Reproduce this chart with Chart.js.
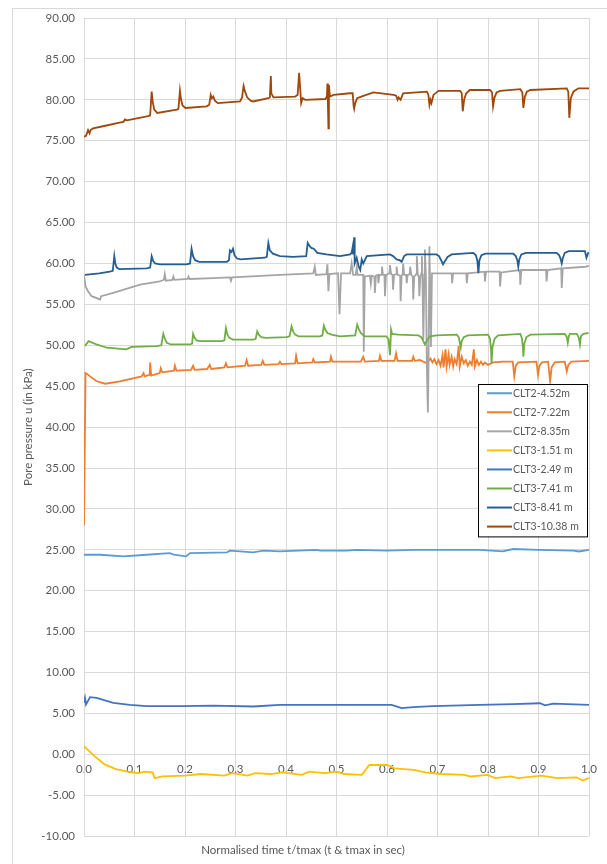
<!DOCTYPE html>
<html>
<head>
<meta charset="utf-8">
<script src="https://cdn.jsdelivr.net/npm/chart.js"></script>
<style>
  html, body { margin: 0; padding: 0; background: #fff; overflow: hidden; }
  #wrap { position: relative; width: 607px; height: 864px; }
  #frame { position: absolute; left: 12px; top: 8px; width: 700px; height: 1000px; border: 1px solid #d9d9d9; box-sizing: border-box; }
  canvas { position: absolute; left: 0; top: 0; }
</style>
</head>
<body>
<div id="wrap">
  <div id="frame"></div>
  <canvas id="c" width="607" height="864"></canvas>
</div>
<script>
// ---- DATA (t/tmax, pore pressure kPa) ----
const seriesNames = ["CLT2-4.52m", "CLT2-7.22m", "CLT2-8.35m", "CLT3-1.51 m", "CLT3-2.49 m", "CLT3-7.41 m", "CLT3-8.41 m", "CLT3-10.38 m"];

const CLT2_452 = [[0,24.4],[0.032,24.4],[0.078,24.2],[0.124,24.4],[0.170,24.6],[0.178,24.4],[0.202,24.2],[0.210,24.6],[0.283,24.7],[0.289,24.9],[0.335,24.7],[0.355,24.9],[0.388,24.8],[0.461,25.0],[0.468,24.9],[0.520,24.9],[0.540,25.0],[0.600,24.9],[0.652,25.0],[0.718,25.0],[0.784,25.0],[0.829,24.8],[0.850,25.1],[0.900,25.0],[0.969,24.9],[0.980,24.8],[1.0,25.0]];

const CLT2_722 = [[0.0,28.0],[0.003,46.6],[0.006,46.5],[0.012,46.2],[0.025,45.6],[0.042,45.3],[0.071,45.6],[0.114,46.2],[0.118,46.6],[0.120,46.2],[0.130,46.4],[0.131,47.9],[0.133,46.3],[0.150,46.6],[0.152,47.2],[0.155,46.7],[0.178,46.9],[0.180,47.5],[0.183,46.9],[0.212,47.0],[0.216,47.5],[0.219,47.0],[0.244,47.1],[0.249,47.6],[0.252,47.1],[0.278,47.3],[0.281,47.8],[0.284,47.3],[0.319,47.5],[0.322,48.2],[0.325,47.5],[0.351,47.6],[0.354,48.1],[0.357,47.6],[0.385,47.7],[0.388,48.0],[0.391,47.7],[0.418,47.8],[0.420,48.7],[0.423,47.8],[0.452,47.9],[0.454,48.3],[0.457,47.9],[0.487,48.0],[0.489,48.6],[0.492,48.0],[0.548,48.0],[0.553,48.6],[0.556,48.0],[0.584,48.1],[0.586,48.7],[0.589,48.1],[0.615,48.1],[0.618,49.0],[0.621,48.1],[0.650,48.1],[0.652,48.6],[0.655,48.1],[0.665,48.2],[0.679,47.8],[0.686,48.4],[0.690,47.9],[0.694,48.3],[0.698,47.7],[0.702,48.2],[0.706,47.5],[0.710,48.8],[0.712,47.3],[0.716,49.5],[0.718,47.4],[0.722,48.9],[0.724,47.6],[0.728,48.6],[0.731,47.4],[0.734,48.3],[0.738,47.7],[0.742,49.9],[0.744,47.4],[0.748,48.6],[0.752,47.8],[0.756,48.2],[0.760,47.5],[0.764,48.0],[0.768,47.6],[0.772,49.5],[0.774,47.4],[0.778,48.2],[0.782,47.6],[0.786,48.0],[0.790,47.6],[0.794,47.9],[0.800,47.6],[0.810,47.9],[0.830,48.0],[0.849,48.0],[0.852,46.2],[0.855,47.5],[0.860,47.9],[0.896,48.0],[0.899,46.4],[0.902,47.5],[0.907,47.9],[0.919,48.0],[0.923,45.6],[0.926,47.3],[0.932,47.9],[0.952,48.0],[0.956,46.8],[0.959,47.6],[0.965,48.0],[1.0,48.1]];

const CLT2_835 = [[0,58.6],[0.003,57.2],[0.008,56.6],[0.015,56.0],[0.032,55.6],[0.034,56.0],[0.058,56.4],[0.111,57.4],[0.150,57.8],[0.158,58.0],[0.160,58.7],[0.162,57.9],[0.175,58.0],[0.177,58.4],[0.179,58.0],[0.205,58.1],[0.207,58.4],[0.209,58.1],[0.256,58.2],[0.289,58.3],[0.291,57.9],[0.293,58.3],[0.322,58.4],[0.388,58.6],[0.454,58.8],[0.457,59.6],[0.459,58.6],[0.480,58.7],[0.482,59.9],[0.484,56.6],[0.486,58.7],[0.503,58.8],[0.506,53.8],[0.509,58.8],[0.527,58.8],[0.530,60.0],[0.533,58.6],[0.538,58.6],[0.540,59.5],[0.542,58.6],[0.553,58.6],[0.554,49.2],[0.556,58.4],[0.566,58.5],[0.568,57.5],[0.570,58.5],[0.575,58.4],[0.576,56.4],[0.578,58.5],[0.582,58.6],[0.583,57.6],[0.585,58.6],[0.589,58.6],[0.590,59.6],[0.592,58.6],[0.595,58.6],[0.596,56.0],[0.598,58.6],[0.605,58.8],[0.606,59.8],[0.608,58.7],[0.611,58.6],[0.612,56.8],[0.614,58.6],[0.618,58.7],[0.619,59.6],[0.621,58.6],[0.626,58.5],[0.627,55.4],[0.629,58.5],[0.631,58.7],[0.632,60.0],[0.634,58.6],[0.638,58.6],[0.639,57.6],[0.641,58.6],[0.645,58.7],[0.646,59.6],[0.648,58.6],[0.651,58.4],[0.652,55.6],[0.654,58.4],[0.658,58.7],[0.659,60.9],[0.661,58.6],[0.663,58.4],[0.664,56.0],[0.666,58.4],[0.668,58.8],[0.669,60.9],[0.670,58.8],[0.672,50.7],[0.674,58.6],[0.675,61.7],[0.677,58.6],[0.679,47.0],[0.681,41.8],[0.682,46.2],[0.684,62.1],[0.686,55.0],[0.687,49.8],[0.689,58.8],[0.705,58.8],[0.728,58.8],[0.729,57.6],[0.731,58.8],[0.757,58.8],[0.758,57.6],[0.760,58.8],[0.793,59.0],[0.794,57.8],[0.796,59.0],[0.823,59.0],[0.824,57.2],[0.826,58.9],[0.863,59.2],[0.864,57.4],[0.866,59.2],[0.915,59.2],[0.916,57.8],[0.918,59.2],[0.945,59.4],[0.946,57.0],[0.948,59.4],[0.993,59.6],[1.0,59.7]];

const CLT3_151 = [[0,1.0],[0.017,0.0],[0.040,-1.2],[0.063,-1.8],[0.094,-2.2],[0.109,-2.3],[0.120,-2.1],[0.136,-2.2],[0.140,-2.9],[0.155,-2.7],[0.200,-2.6],[0.232,-2.4],[0.278,-2.6],[0.293,-2.3],[0.324,-2.6],[0.339,-2.3],[0.370,-2.4],[0.393,-2.2],[0.431,-2.5],[0.446,-2.1],[0.477,-2.3],[0.500,-2.1],[0.515,-2.4],[0.550,-2.5],[0.565,-1.3],[0.600,-1.3],[0.615,-1.7],[0.653,-1.9],[0.676,-2.2],[0.707,-2.4],[0.753,-2.5],[0.765,-2.7],[0.799,-2.5],[0.814,-2.9],[0.845,-2.7],[0.860,-2.9],[0.906,-2.6],[0.937,-2.9],[0.975,-2.8],[0.987,-3.2],[1.0,-2.9]];

const CLT3_249 = [[0,6.3],[0.002,6.9],[0.004,6.1],[0.012,7.0],[0.025,6.9],[0.058,6.3],[0.091,6.05],[0.124,5.9],[0.190,5.9],[0.256,5.95],[0.335,5.85],[0.388,6.05],[0.520,6.05],[0.609,6.05],[0.629,5.65],[0.652,5.77],[0.691,5.9],[0.784,6.05],[0.850,6.15],[0.903,6.25],[0.913,6.0],[0.929,6.2],[1.0,6.05]];

const CLT3_741 = [[0.002,49.9],[0.009,50.5],[0.025,50.1],[0.045,49.7],[0.084,49.5],[0.094,49.8],[0.144,49.9],[0.153,50.0],[0.157,51.4],[0.160,50.8],[0.164,50.3],[0.172,50.1],[0.210,50.1],[0.214,50.2],[0.216,51.4],[0.219,50.9],[0.223,50.6],[0.230,50.5],[0.273,50.5],[0.278,50.6],[0.281,52.1],[0.284,51.3],[0.288,50.9],[0.295,50.7],[0.335,50.7],[0.340,50.8],[0.343,51.7],[0.346,51.3],[0.351,51.0],[0.360,50.9],[0.401,51.0],[0.407,51.1],[0.411,52.3],[0.414,51.7],[0.418,51.3],[0.425,51.1],[0.467,51.1],[0.472,51.2],[0.475,52.4],[0.478,51.9],[0.482,51.5],[0.490,51.3],[0.507,51.1],[0.537,51.2],[0.539,51.9],[0.541,52.5],[0.544,52.0],[0.548,51.5],[0.556,51.1],[0.599,51.1],[0.603,50.7],[0.606,48.8],[0.608,51.9],[0.610,51.4],[0.622,51.3],[0.662,51.2],[0.668,51.0],[0.672,50.5],[0.675,50.1],[0.679,50.6],[0.685,51.1],[0.698,51.2],[0.738,51.3],[0.742,51.0],[0.744,50.4],[0.746,49.7],[0.748,50.5],[0.752,51.0],[0.760,51.2],[0.800,51.3],[0.804,50.8],[0.806,49.5],[0.807,47.8],[0.809,49.8],[0.813,50.8],[0.820,51.2],[0.864,51.4],[0.867,50.9],[0.869,49.8],[0.870,48.6],[0.872,50.2],[0.876,51.0],[0.884,51.3],[0.952,51.4],[0.956,51.0],[0.958,50.3],[0.960,51.1],[0.962,51.4],[0.976,51.4],[0.980,50.9],[0.982,50.1],[0.984,51.1],[0.989,51.4],[0.999,51.5]];

const CLT3_841 = [[0.002,58.6],[0.030,58.8],[0.051,59.0],[0.057,59.1],[0.060,60.9],[0.062,60.0],[0.065,59.5],[0.070,59.3],[0.124,59.4],[0.131,59.5],[0.134,60.9],[0.137,60.3],[0.141,60.0],[0.150,59.9],[0.203,59.9],[0.210,60.0],[0.213,61.8],[0.216,60.9],[0.220,60.4],[0.228,60.2],[0.283,60.2],[0.287,60.4],[0.289,61.6],[0.292,61.4],[0.295,61.8],[0.298,61.0],[0.303,60.6],[0.310,60.5],[0.358,60.7],[0.362,60.8],[0.365,62.5],[0.368,61.6],[0.374,61.2],[0.388,60.9],[0.414,60.8],[0.440,60.9],[0.443,62.5],[0.446,62.2],[0.450,61.9],[0.455,61.8],[0.462,61.3],[0.480,61.1],[0.507,60.9],[0.527,61.1],[0.530,61.3],[0.532,62.0],[0.533,61.1],[0.535,63.2],[0.536,60.0],[0.540,60.7],[0.544,59.6],[0.547,59.2],[0.550,60.5],[0.553,60.0],[0.560,60.9],[0.606,61.1],[0.612,60.9],[0.619,60.5],[0.625,60.4],[0.629,60.2],[0.634,60.9],[0.639,61.1],[0.698,61.1],[0.703,60.9],[0.708,60.3],[0.711,59.9],[0.714,60.2],[0.720,60.8],[0.728,61.1],[0.771,61.3],[0.776,61.0],[0.779,60.3],[0.781,58.8],[0.783,60.4],[0.787,61.0],[0.795,61.2],[0.850,61.2],[0.855,60.9],[0.858,60.4],[0.860,59.6],[0.862,60.5],[0.866,61.1],[0.875,61.3],[0.936,61.3],[0.941,61.0],[0.944,60.5],[0.946,60.0],[0.948,60.6],[0.952,61.3],[0.960,61.5],[0.992,61.5],[0.995,60.7],[0.999,61.4]];

const CLT3_1038 = [[0,75.5],[0.004,75.6],[0.008,76.3],[0.011,75.9],[0.013,76.3],[0.018,76.5],[0.040,76.8],[0.070,77.2],[0.078,77.3],[0.081,77.6],[0.085,77.5],[0.127,78.0],[0.131,78.1],[0.134,81.0],[0.136,79.8],[0.139,78.8],[0.145,78.4],[0.184,78.8],[0.187,78.9],[0.190,81.1],[0.192,80.1],[0.195,79.3],[0.201,79.0],[0.243,79.2],[0.248,79.4],[0.251,80.6],[0.253,80.2],[0.256,80.4],[0.259,79.9],[0.265,79.6],[0.309,79.8],[0.313,80.3],[0.316,81.7],[0.319,81.0],[0.323,80.3],[0.330,79.9],[0.335,79.8],[0.365,80.2],[0.368,80.3],[0.370,82.9],[0.371,80.8],[0.375,80.3],[0.418,80.4],[0.423,80.6],[0.426,83.3],[0.428,81.5],[0.430,79.6],[0.433,80.2],[0.438,80.0],[0.478,80.1],[0.481,80.4],[0.482,82.0],[0.483,79.5],[0.484,76.5],[0.485,81.8],[0.487,80.4],[0.494,80.6],[0.527,80.8],[0.532,80.8],[0.534,79.2],[0.535,78.9],[0.537,79.6],[0.541,80.2],[0.549,80.4],[0.573,80.9],[0.613,80.6],[0.618,80.5],[0.621,80.0],[0.623,80.3],[0.627,80.0],[0.632,80.8],[0.679,81.0],[0.682,80.6],[0.684,79.4],[0.686,80.0],[0.688,79.6],[0.692,80.6],[0.702,81.1],[0.745,81.1],[0.748,80.8],[0.750,78.6],[0.753,80.1],[0.757,80.8],[0.764,81.2],[0.804,81.2],[0.808,80.9],[0.810,79.2],[0.813,80.3],[0.817,80.9],[0.824,81.1],[0.864,81.3],[0.868,80.9],[0.870,79.0],[0.873,80.4],[0.877,81.0],[0.884,81.2],[0.956,81.4],[0.959,81.0],[0.961,77.8],[0.964,80.2],[0.969,81.0],[0.979,81.4],[1.0,81.4]];

const seriesData = [CLT2_452, CLT2_722, CLT2_835, CLT3_151, CLT3_249, CLT3_741, CLT3_841, CLT3_1038];
const seriesColors = ["#5B9BD5", "#ED7D31", "#A5A5A5", "#FFC000", "#4472C4", "#70AD47", "#255E91", "#9E480E"];

const xTitle = "Normalised time t/tmax (t & tmax in sec)";
const yTitle = "Pore pressure u (in kPa)";
const yMin = -10, yMax = 90, yStep = 5;
const xMin = 0, xMax = 1, xStep = 0.1;

const FONT = "Lato, 'Liberation Sans', sans-serif";
const TXT = "#595959";
const GRID = "#d9d9d9";

const datasets = seriesData.map((d, i) => ({
  label: seriesNames[i],
  data: d.map(p => ({ x: p[0], y: p[1] })),
  borderColor: seriesColors[i],
  backgroundColor: seriesColors[i],
  borderWidth: 1.8,
  pointRadius: 0,
  tension: 0,
  fill: false,
  order: seriesData.length - i
}));

const boxLegend = {
  id: 'boxLegend',
  afterDraw(chart) {
    const ctx = chart.ctx;
    const a = chart.chartArea;
    const w = 109, rowH = 19.05;
    const x0 = a.right - w - 2;
    const y0 = chart.scales.y.getPixelForValue(45.3);
    const h = rowH * chart.data.datasets.length;
    ctx.save();
    ctx.fillStyle = "#fff";
    ctx.fillRect(x0, y0, w, h);
    ctx.strokeStyle = "#000";
    ctx.lineWidth = 1;
    ctx.strokeRect(Math.round(x0) + 0.5, Math.round(y0) + 0.5, w, h);
    ctx.font = "10.5px " + FONT;
    ctx.textBaseline = "middle";
    chart.data.datasets.forEach((ds, i) => {
      const cy = y0 + 9.5 + i * rowH;
      ctx.strokeStyle = ds.borderColor;
      ctx.lineWidth = 2;
      ctx.beginPath();
      ctx.moveTo(x0 + 9, cy);
      ctx.lineTo(x0 + 34, cy);
      ctx.stroke();
      ctx.fillStyle = TXT;
      ctx.fillText(ds.label, x0 + 35, cy);
    });
    ctx.restore();
  }
};

new Chart(document.getElementById('c'), {
  type: 'line',
  data: { datasets },
  plugins: [boxLegend],
  options: {
    responsive: false,
    animation: false,
    events: [],
    layout: { padding: { left: 17, right: 18, top: 18, bottom: 7 } },
    plugins: {
      legend: { display: false },
      tooltip: { enabled: false },
      title: {
        display: true, position: 'bottom', text: xTitle, color: TXT,
        font: { family: FONT, size: 11.5, weight: 'normal' },
        padding: { top: 7, bottom: 0 }
      }
    },
    scales: {
      x: {
        type: 'linear',
        position: { y: 0 },
        min: xMin, max: xMax,
        ticks: {
          stepSize: xStep, color: TXT, padding: 8,
          font: { family: FONT, size: 11.5 },
          maxRotation: 0,
          callback: v => Number(v).toFixed(1)
        },
        grid: { color: GRID, lineWidth: 1, drawTicks: false },
        border: { color: GRID }
      },
      y: {
        type: 'linear',
        position: 'left',
        min: yMin, max: yMax,
        ticks: {
          stepSize: yStep, color: TXT, padding: 9,
          font: { family: FONT, size: 11.5 },
          callback: v => Number(v).toFixed(2)
        },
        grid: { color: GRID, lineWidth: 1, drawTicks: false },
        border: { color: GRID },
        title: {
          display: true, text: yTitle, color: TXT,
          font: { family: FONT, size: 11.5 },
          padding: { top: 4, bottom: 0 }
        },
        afterFit: s => { s.width = 67; }
      }
    }
  }
});
</script>
</body>
</html>
